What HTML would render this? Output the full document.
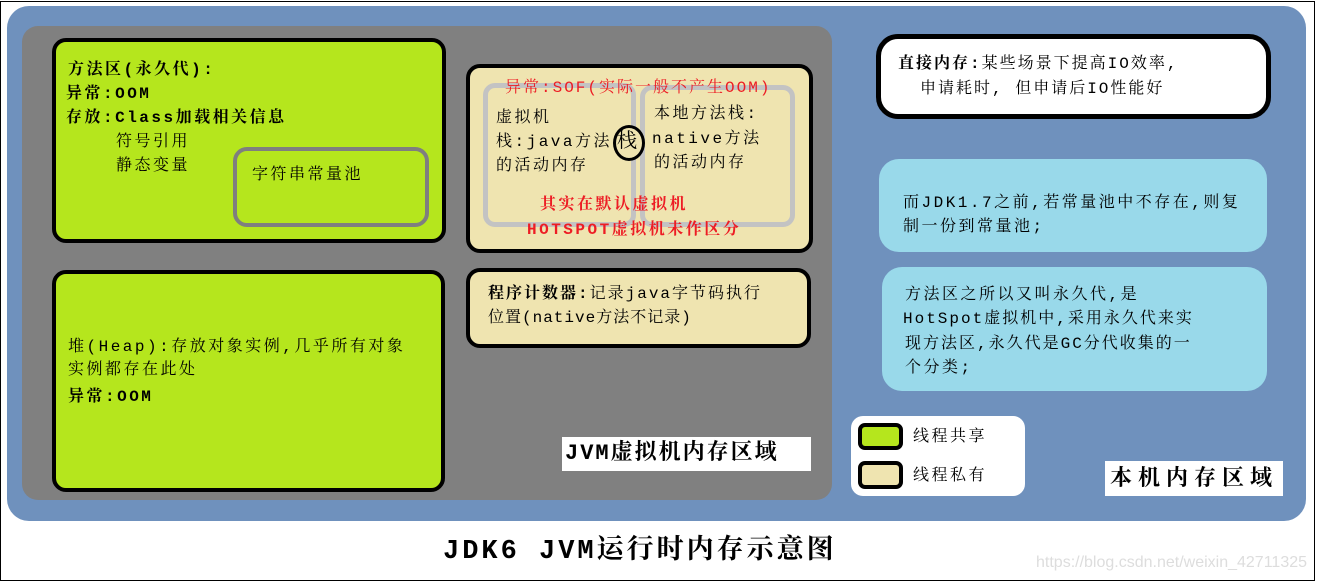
<!DOCTYPE html>
<html><head><meta charset="utf-8"><style>
body{margin:0;width:1317px;height:583px;background:#fff;position:relative;overflow:hidden;font-family:"Liberation Sans","Noto Sans CJK SC",sans-serif;}
div{position:absolute;box-sizing:border-box;}
.t{font-family:"Liberation Mono","Noto Serif CJK SC",serif;font-size:16px;color:#000;white-space:nowrap;line-height:24px;letter-spacing:2.5px;}
.b{font-weight:bold;}
</style></head><body>
<div style="left:0;top:1px;width:1315px;height:580px;border:1px solid #000;"></div>
<div style="left:7px;top:6px;width:1299px;height:515px;background:#6f91bd;border-radius:22px;"></div>
<div style="left:22px;top:26px;width:810px;height:474px;background:#808080;border-radius:16px;"></div>

<div style="left:52px;top:38px;width:394px;height:205px;background:#b5e61d;border:4px solid #000;border-radius:14px;"></div>
<div class="t b" style="left:68px;top:58px;">方法区(永久代):</div>
<div class="t b" style="left:66px;top:82px;">异常:OOM</div>
<div class="t b" style="left:66px;top:106px;">存放:Class加载相关信息</div>
<div class="t" style="left:116px;top:130px;">符号引用</div>
<div class="t" style="left:116px;top:154px;">静态变量</div>
<div style="left:233px;top:147px;width:196px;height:80px;border:4px solid #7f7f7f;border-radius:14px;"></div>
<div class="t" style="left:252px;top:163px;">字符串常量池</div>

<div style="left:52px;top:270px;width:393px;height:222px;background:#b5e61d;border:4px solid #000;border-radius:14px;"></div>
<div class="t" style="left:68px;top:335px;">堆(Heap):存放对象实例,几乎所有对象</div>
<div class="t" style="left:68px;top:358px;">实例都存在此处</div>
<div class="t b" style="left:68px;top:385px;">异常:OOM</div>

<div style="left:466px;top:64px;width:347px;height:189px;background:#efe4b0;border:4px solid #000;border-radius:14px;"></div>
<div style="left:483px;top:83px;width:153px;height:144px;border:5px solid #c3c3c3;border-radius:12px;"></div>
<div style="left:640px;top:85px;width:155px;height:142px;border:5px solid #c3c3c3;border-radius:12px;"></div>
<div class="t" style="left:505px;top:76px;color:#ed1c24;letter-spacing:2px;">异常:SOF(实际一般不产生OOM)</div>
<div class="t" style="left:496px;top:106px;">虚拟机</div>
<div class="t" style="left:496px;top:130px;">栈:java方法</div>
<div class="t" style="left:496px;top:154px;">的活动内存</div>
<div style="left:613px;top:125px;width:32px;height:36px;border:3px solid #000;border-radius:50%;background:#efe4b0;"></div>
<div class="t" style="left:617px;top:131px;font-size:20px;letter-spacing:0;">栈</div>
<div class="t" style="left:654px;top:102px;">本地方法栈:</div>
<div class="t" style="left:652px;top:127px;">native方法</div>
<div class="t" style="left:654px;top:151px;">的活动内存</div>
<div class="t b" style="left:540px;top:193px;color:#ed1c24;">其实在默认虚拟机</div>
<div class="t b" style="left:527px;top:218px;color:#ed1c24;">HOTSPOT虚拟机未作区分</div>

<div style="left:466px;top:268px;width:345px;height:80px;background:#efe4b0;border:4px solid #000;border-radius:14px;"></div>
<div class="t" style="left:488px;top:282px;letter-spacing:2px;"><b>程序计数器:</b>记录java字节码执行</div>
<div class="t" style="left:488px;top:306px;letter-spacing:1px;">位置(native方法不记录)</div>

<div style="left:562px;top:437px;width:249px;height:34px;background:#fff;"></div>
<div class="t b" style="left:565px;top:441px;font-size:22px;line-height:26px;letter-spacing:2px;">JVM虚拟机内存区域</div>

<div style="left:876px;top:34px;width:395px;height:85px;background:#fff;border:5px solid #000;border-radius:22px;"></div>
<div class="t" style="left:898px;top:52px;letter-spacing:2px;"><b>直接内存:</b>某些场景下提高IO效率,</div>
<div class="t" style="left:920px;top:77px;letter-spacing:2px;">申请耗时, 但申请后IO性能好</div>

<div style="left:879px;top:159px;width:388px;height:93px;background:#99d9ea;border-radius:20px;"></div>
<div class="t" style="left:903px;top:191px;">而JDK1.7之前,若常量池中不存在,则复</div>
<div class="t" style="left:903px;top:215px;">制一份到常量池;</div>
<div style="left:882px;top:267px;width:385px;height:124px;background:#99d9ea;border-radius:20px;"></div>
<div class="t" style="left:905px;top:283px;">方法区之所以又叫永久代,是</div>
<div class="t" style="left:903px;top:307px;letter-spacing:2px;">HotSpot虚拟机中,采用永久代来实</div>
<div class="t" style="left:905px;top:332px;letter-spacing:2px;">现方法区,永久代是GC分代收集的一</div>
<div class="t" style="left:905px;top:356px;">个分类;</div>

<div style="left:851px;top:416px;width:174px;height:80px;background:#fff;border-radius:12px;"></div>
<div style="left:858px;top:423px;width:45px;height:27px;background:#b5e61d;border:4px solid #000;border-radius:7px;"></div>
<div style="left:858px;top:461px;width:45px;height:28px;background:#efe4b0;border:4px solid #000;border-radius:7px;"></div>
<div class="t" style="left:913px;top:425px;">线程共享</div>
<div class="t" style="left:913px;top:464px;">线程私有</div>

<div style="left:1105px;top:461px;width:178px;height:35px;background:#fff;"></div>
<div class="t b" style="left:1110px;top:466px;font-size:22px;line-height:28px;letter-spacing:6px;">本机内存区域</div>

<div class="t b" style="left:443px;top:534px;font-size:27px;line-height:36px;letter-spacing:3px;">JDK6 JVM运行时内存示意图</div>
<div style="left:1036px;top:554px;font-family:'Liberation Sans',sans-serif;font-size:16px;color:#ddd;white-space:nowrap;">https://blog.csdn.net/weixin_42711325</div>
</body></html>
